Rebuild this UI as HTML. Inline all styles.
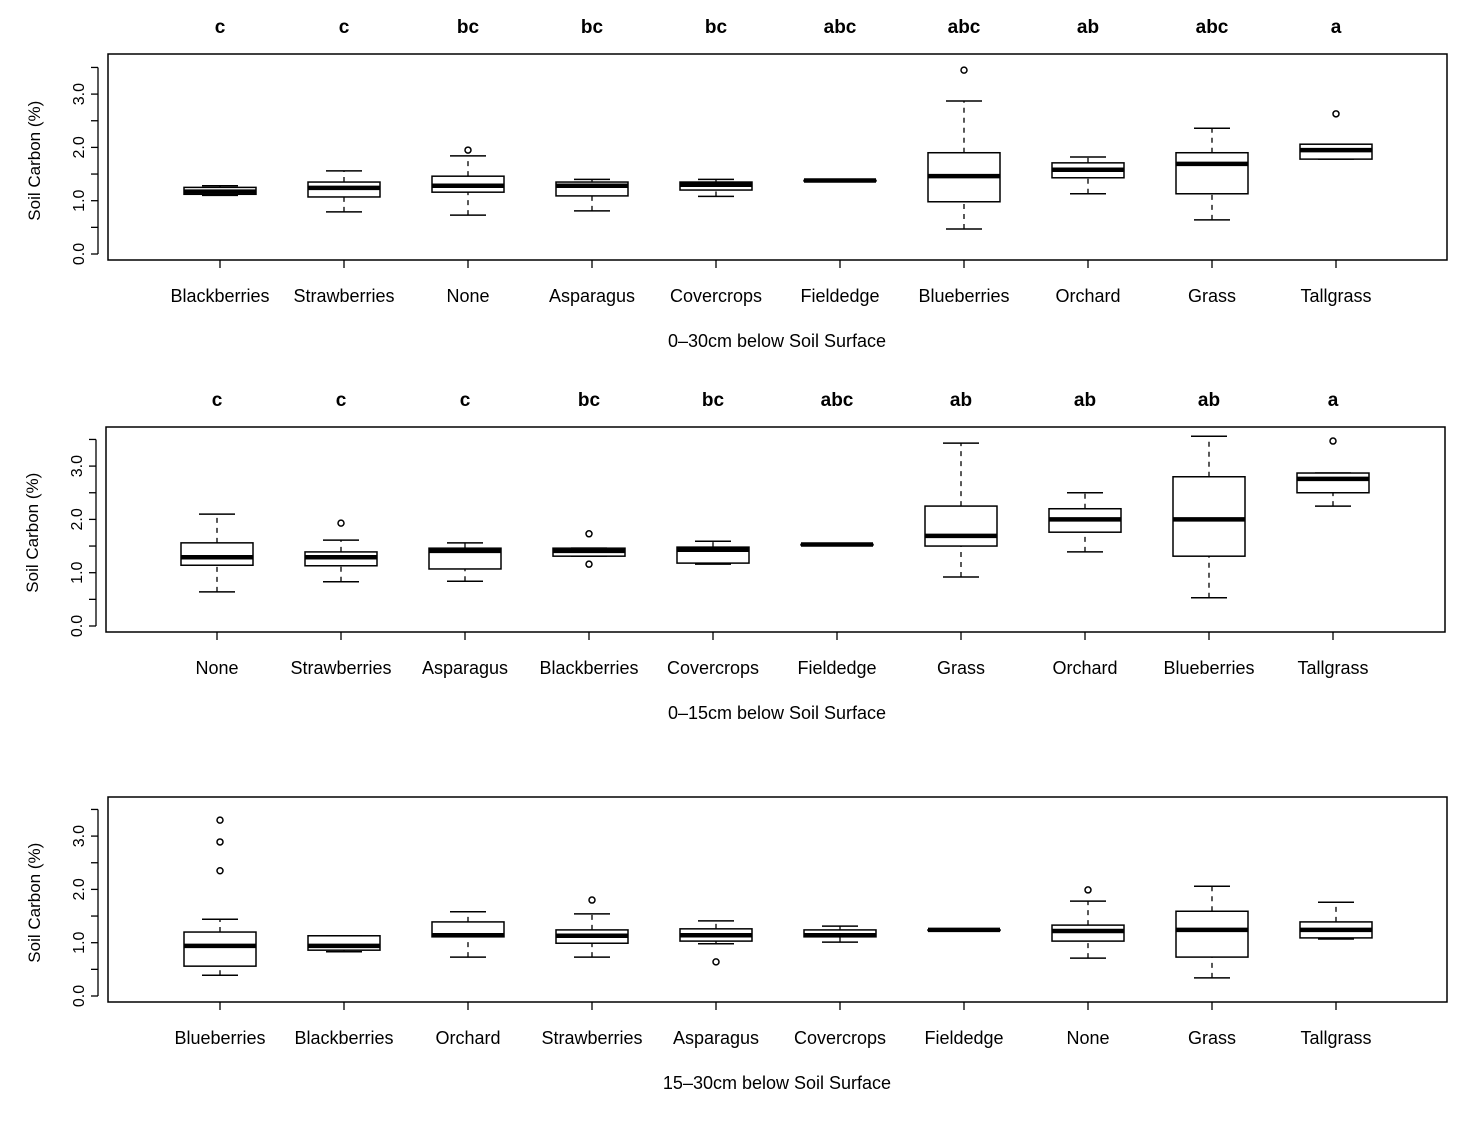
<!DOCTYPE html>
<html><head><meta charset="utf-8"><style>
body{margin:0;background:#fff;}
svg{display:block;font-family:"Liberation Sans",sans-serif;}
</style></head><body>
<svg id="c" width="1468" height="1126"></svg>
<script>
// Panel data: [lowWhisker, q1, median, q3, highWhisker]
const cats1 = ["Blackberries","Strawberries","None","Asparagus","Covercrops","Fieldedge","Blueberries","Orchard","Grass","Tallgrass"];
const letters1 = ["c","c","bc","bc","bc","abc","abc","ab","abc","a"];
const stats1 = [[1.1,1.12,1.17,1.25,1.28],[0.79,1.07,1.24,1.35,1.56],[0.73,1.16,1.28,1.46,1.84],[0.81,1.09,1.28,1.35,1.4],[1.08,1.2,1.3,1.35,1.4],[1.38,1.38,1.38,1.38,1.38],[0.47,0.98,1.46,1.9,2.87],[1.13,1.43,1.58,1.71,1.82],[0.64,1.13,1.69,1.9,2.36],[1.78,1.78,1.95,2.06,2.06]];
const outliers1 = [[],[],[1.95],[],[],[],[3.45],[],[],[2.63]];

const cats2 = ["None","Strawberries","Asparagus","Blackberries","Covercrops","Fieldedge","Grass","Orchard","Blueberries","Tallgrass"];
const letters2 = ["c","c","c","bc","bc","abc","ab","ab","ab","a"];
const stats2 = [[0.64,1.14,1.29,1.56,2.1],[0.83,1.13,1.29,1.39,1.61],[0.84,1.07,1.41,1.46,1.56],[1.31,1.31,1.41,1.46,1.46],[1.16,1.18,1.43,1.48,1.59],[1.53,1.53,1.53,1.53,1.53],[0.92,1.5,1.69,2.25,3.43],[1.39,1.76,2.0,2.2,2.5],[0.53,1.31,2.0,2.8,3.56],[2.25,2.5,2.76,2.87,2.87]];
const outliers2 = [[],[1.93],[],[1.73,1.16],[],[],[],[],[],[3.47]];

const cats3 = ["Blueberries","Blackberries","Orchard","Strawberries","Asparagus","Covercrops","Fieldedge","None","Grass","Tallgrass"];
const letters3 = [];
const stats3 = [[0.39,0.56,0.94,1.2,1.44],[0.83,0.86,0.94,1.13,1.13],[0.73,1.11,1.14,1.39,1.58],[0.73,0.99,1.13,1.24,1.54],[0.98,1.03,1.14,1.26,1.41],[1.01,1.11,1.14,1.24,1.31],[1.24,1.24,1.24,1.24,1.24],[0.71,1.03,1.22,1.33,1.78],[0.34,0.73,1.24,1.59,2.06],[1.07,1.09,1.24,1.39,1.76]];
const outliers3 = [[3.3,2.89,2.35],[],[],[1.8],[0.64],[],[],[1.99],[],[]];
const yTicks = [0,1,2,3];
const yTickLabels = ["0.0","1.0","2.0","3.0"];

const svg = document.getElementById('c');
const NS = "http://www.w3.org/2000/svg";
function mk(tag, attrs, parent){const e=document.createElementNS(NS,tag);for(const k in attrs)e.setAttribute(k,attrs[k]);(parent||svg).appendChild(e);return e;}

function panel(p){
  const g = mk('g',{});
  
  
  const y = v => p.zero - v*p.unit;
  const x = i => p.x0 + i*124;
  const frame = mk('rect',{x:p.left,y:p.top,width:1339,height:p.h,fill:'none',stroke:'#000','stroke-width':1.5},g);
  
  
  // y axis
  const ax = p.left-10;
  const yl = mk('line',{x1:ax,x2:ax,y1:y(0),y2:y(3.5),stroke:'#000','stroke-width':1.3},g);
  
  
  [0,0.5,1,1.5,2,2.5,3,3.5].forEach(v=>mk('line',{x1:ax-7,x2:ax,y1:y(v),y2:y(v),stroke:'#000','stroke-width':1.3},g));
  yTicks.forEach((v,i)=>{
    const t=mk('text',{x:0,y:0,transform:`translate(${ax-14},${y(v)}) rotate(-90)`,'text-anchor':'middle','font-size':16},g);
    t.textContent=yTickLabels[i];
    
    
  });
  const yt=mk('text',{x:0,y:0,transform:`translate(${ax-58},${y(1.75)}) rotate(-90)`,'text-anchor':'middle','font-size':17},g);
  yt.textContent='Soil Carbon (%)';
  
  
  const bot = p.top+p.h;
  p.cats.forEach((c,i)=>{
    const cx=x(i), s=p.stats[i];
    mk('line',{x1:cx,x2:cx,y1:bot,y2:bot+8,stroke:'#000','stroke-width':1.3},g);
    const lt=mk('text',{x:cx,y:bot+42,'text-anchor':'middle','font-size':18},g);
    lt.textContent=c;
    
    
    if(p.letters[i]){
      const l=mk('text',{x:cx,y:p.top-21,'text-anchor':'middle','font-size':19,'font-weight':'bold'},g);
      l.textContent=p.letters[i];
      
      
    }
    const bg=mk('g',{},g);
    
    
    mk('line',{x1:cx,x2:cx,y1:y(s[0]),y2:y(s[1]),stroke:'#000','stroke-width':1.3,'stroke-dasharray':'5,5'},bg);
    mk('line',{x1:cx,x2:cx,y1:y(s[3]),y2:y(s[4]),stroke:'#000','stroke-width':1.3,'stroke-dasharray':'5,5'},bg);
    mk('line',{x1:cx-18,x2:cx+18,y1:y(s[0]),y2:y(s[0]),stroke:'#000','stroke-width':1.5},bg);
    mk('line',{x1:cx-18,x2:cx+18,y1:y(s[4]),y2:y(s[4]),stroke:'#000','stroke-width':1.5},bg);
    mk('rect',{x:cx-36,y:y(s[3]),width:72,height:Math.max(0.5,y(s[1])-y(s[3])),fill:'#fff',stroke:'#000','stroke-width':1.5},bg);
    mk('line',{x1:cx-36,x2:cx+36,y1:y(s[2]),y2:y(s[2]),stroke:'#000','stroke-width':4.5},bg);
    p.out[i].forEach(v=>{
      const o=mk('circle',{cx:cx,cy:y(v),r:3,fill:'none',stroke:'#000','stroke-width':1.5},bg);
      
      
    });
  });
  const xt=mk('text',{x:777,y:bot+87,'text-anchor':'middle','font-size':18},g);
  xt.textContent=p.title;
  
  
}
panel({name:'panel-0-30cm',left:108,top:54,h:206,zero:254,unit:53.3,x0:220,cats:cats1,letters:letters1,stats:stats1,out:outliers1,title:'0\u201330cm below Soil Surface'});
panel({name:'panel-0-15cm',left:106,top:427,h:205,zero:626,unit:53.3,x0:217,cats:cats2,letters:letters2,stats:stats2,out:outliers2,title:'0\u201315cm below Soil Surface'});
panel({name:'panel-15-30cm',left:108,top:797,h:205,zero:996,unit:53.3,x0:220,cats:cats3,letters:letters3,stats:stats3,out:outliers3,title:'15\u201330cm below Soil Surface'});
</script>
</body></html>
